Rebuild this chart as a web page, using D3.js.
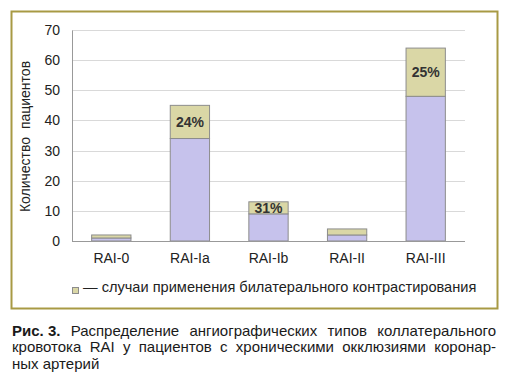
<!DOCTYPE html>
<html>
<head>
<meta charset="utf-8">
<script src="https://cdn.jsdelivr.net/npm/d3@7"></script>
<style>
  body { margin: 0; background: #fff; }
  svg { display: block; font-family: "Liberation Sans", Arial, sans-serif; }
</style>
</head>
<body>
<div id="chart"></div>
<script>
// данные
const categories = ['RAI-0', 'RAI-Ia', 'RAI-Ib', 'RAI-II', 'RAI-III'];
const baseValues = [1, 34, 9, 2, 48];        // нижняя часть (сиреневая)
const bilateralValues = [1, 11, 4, 2, 16];   // билатеральное контрастирование
const percentLabels = ['', '24%', '31%', '', '25%'];
const yTicks = [0, 10, 20, 30, 40, 50, 60, 70];
const legendText = '— случаи применения билатерального контрастирования';
const captionLines = [
    ['Рис. 3.', 'Распределение ангиографических типов коллатерального'],
    ['', 'кровотока RAI у пациентов с хроническими окклюзиями коронар-'],
    ['', 'ных артерий']
];

const W = 510, H = 386;
const svg = d3.select('#chart').append('svg').attr('width', W).attr('height', H);

// рамка
svg.append('rect')
    .attr('x', 11.5).attr('y', 11.5).attr('width', 486).attr('height', 297)
    .attr('fill', '#fff').attr('stroke', '#a89a44').attr('stroke-width', 2);

const plot = {left: 72, right: 465, top: 30, bottom: 241};

const x = d3.scaleBand().domain(categories).range([plot.left, plot.right]).paddingInner(0.5).paddingOuter(0.25);
const y = d3.scaleLinear().domain([0, 70]).range([plot.bottom, plot.top]);

// сетка
svg.append('g').selectAll('line').data(yTicks.filter(d => d > 0)).join('line')
    .attr('x1', plot.left).attr('x2', plot.right)
    .attr('y1', d => Math.round(y(d)) + 0.5).attr('y2', d => Math.round(y(d)) + 0.5)
    .attr('stroke', '#d9d9d9');

// ось Y
const yAxis = svg.append('g').attr('transform', `translate(${plot.left},0)`)
    .call(d3.axisLeft(y).tickValues(yTicks).tickSize(0).tickPadding(12));
yAxis.select('.domain').attr('stroke', '#999');
yAxis.selectAll('text').attr('font-size', 14).attr('fill', '#222').attr('font-family', 'Liberation Sans, Arial, sans-serif');

// подпись оси Y
svg.append('text')
    .attr('transform', `translate(30,${(plot.top + plot.bottom) / 2 + 1}) rotate(-90)`)
    .attr('text-anchor', 'middle').attr('font-size', 14).attr('fill', '#222')
    .attr('xml:space', 'preserve')
    .text('Количество  пациентов');

// столбцы
const barData = categories.map((c, i) => ({cat: c, base: baseValues[i], bil: bilateralValues[i], label: percentLabels[i]}));

svg.append('g').selectAll('rect').data(barData).join('rect')
    .attr('x', d => x(d.cat)).attr('width', x.bandwidth())
    .attr('y', d => y(d.base)).attr('height', d => y(0) - y(d.base))
    .attr('fill', '#c6c2ec').attr('stroke', '#8c8c8c');

svg.append('g').selectAll('rect').data(barData).join('rect')
    .attr('x', d => x(d.cat)).attr('width', x.bandwidth())
    .attr('y', d => y(d.base + d.bil)).attr('height', d => y(d.base) - y(d.base + d.bil))
    .attr('fill', '#dad7a6').attr('stroke', '#8c8c8c');

svg.append('g').selectAll('text').data(barData.filter(d => d.label)).join('text')
    .attr('x', d => x(d.cat) + x.bandwidth() / 2)
    .attr('y', d => (y(d.base) + y(d.base + d.bil)) / 2 + 5)
    .attr('text-anchor', 'middle').attr('font-size', 14).attr('font-weight', 'bold').attr('fill', '#333')
    .text(d => d.label);

// базовая линия
svg.append('line').attr('x1', plot.left).attr('x2', plot.right)
    .attr('y1', plot.bottom + 0.5).attr('y2', plot.bottom + 0.5).attr('stroke', '#999');

// подписи категорий
svg.append('g').selectAll('text').data(categories).join('text')
    .attr('x', d => x(d) + x.bandwidth() / 2).attr('y', 263)
    .attr('text-anchor', 'middle').attr('font-size', 14).attr('fill', '#222')
    .text(d => d);

// легенда
svg.append('rect').attr('x', 72.5).attr('y', 287.5).attr('width', 6).attr('height', 6)
    .attr('fill', '#dad7a6').attr('stroke', '#8c8c8c');
svg.append('text').attr('x', 83).attr('y', 292).attr('font-size', 14.6).attr('fill', '#222')
    .text(legendText);

// подпись рисунка (по ширине)
const capLeft = 12, capRight = 496, capSize = 15;
captionLines.forEach((line, li) => {
    const yy = 336 + li * 16.4;
    const words = [];
    if (line[0]) words.push({t: line[0], bold: true});
    line[1].split(' ').forEach(w => words.push({t: w, bold: false}));
    const nodes = words.map(w => svg.append('text').attr('y', yy).attr('font-size', capSize)
        .attr('font-weight', w.bold ? 'bold' : 'normal').attr('fill', '#1a1a1a').text(w.t));
    const widths = nodes.map(n => n.node().getComputedTextLength());
    const total = d3.sum(widths);
    const justify = li < captionLines.length - 1;
    const gap = justify ? (capRight - capLeft - total) / (words.length - 1) : capSize * 0.28;
    let cx = capLeft;
    nodes.forEach((n, i) => { n.attr('x', cx); cx += widths[i] + gap; });
});
</script>
</body>
</html>
